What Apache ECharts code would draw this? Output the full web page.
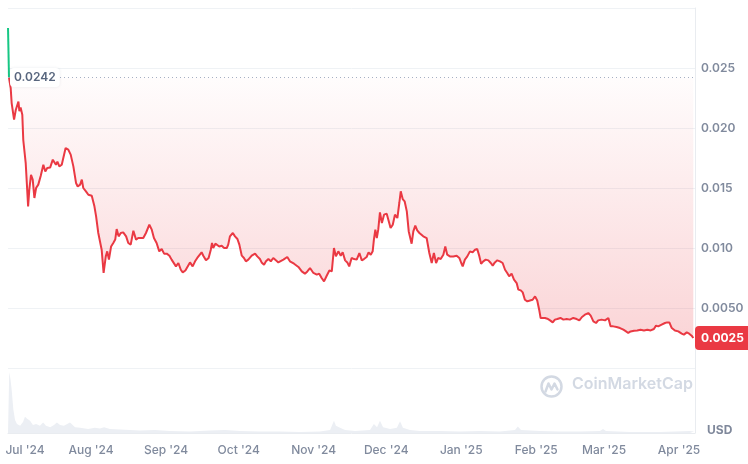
<!DOCTYPE html>
<html>
<head>
<meta charset="utf-8">
<script src="https://cdn.jsdelivr.net/npm/echarts@6/dist/echarts.min.js"></script>
<style>
html,body{margin:0;padding:0;background:#fff;}
#chart{width:748px;height:464px;}
</style>
</head>
<body>
<div id="chart"></div>
<script>
// ---- data (day offsets from 2024-07-01, price in USD) ----
const startDate = Date.UTC(2024, 6, 1);
const DAY = 86400000;
const openPrice = 0.0242;
const lastPrice = 0.0025;
const axisStartDay = -3.31;
const axisEndDay = 280.6;
const monthNames = ['Jan','Feb','Mar','Apr','May','Jun','Jul','Aug','Sep','Oct','Nov','Dec'];
const yTickStep = 0.005;

const upSegment = [[-3.3,0.02833],[-2.9,0.0242]];

const pricePoints = [
[-2.9,0.0242],[-2.2,0.02333],[-1.8,0.02208],[-0.8,0.0207],[-0.1,0.0215],[1.0,0.0222],[1.4,0.0214],[1.9,0.0217],[2.6,0.0211],[3.0,0.0190],[4.0,0.0171],[5.0,0.01347],[5.5,0.01486],[6.2,0.0161],[6.9,0.0157],[7.6,0.01417],[8.3,0.0150],[9.2,0.01528],[10.2,0.0160],[11.3,0.01694],[12.1,0.01638],[12.9,0.01667],[14.1,0.0167],[15.2,0.01736],[15.8,0.01722],[16.5,0.01694],[17.1,0.0172],[17.9,0.0168],[18.9,0.01694],[19.6,0.0168],[20.5,0.01833],[21.6,0.0182],[22.6,0.01778],[23.7,0.0168],[24.8,0.01542],[25.5,0.01513],[26.5,0.01528],[27.2,0.0157],[27.8,0.0150],[28.9,0.01472],[29.9,0.01444],[31.3,0.01436],[32.4,0.01347],[33.1,0.01263],[34.0,0.01125],[34.7,0.0111],[35.4,0.00986],[36.2,0.00792],[37.1,0.0093],[37.7,0.00972],[38.4,0.00903],[39.3,0.01013],[40.2,0.01042],[41.0,0.0107],[41.6,0.01158],[42.4,0.01097],[43.3,0.01125],[44.3,0.0113],[45.5,0.01097],[46.4,0.01042],[47.4,0.01028],[48.5,0.01144],[49.6,0.0107],[50.5,0.01083],
[51.2,0.0107],[52.6,0.01083],[53.7,0.01125],[55.1,0.01194],[56.1,0.01153],[57.0,0.01083],[58.1,0.01042],[59.2,0.00972],[60.2,0.00992],[61.2,0.00953],[62.3,0.00953],[63.4,0.00936],[64.3,0.00903],[65.0,0.00917],[66.1,0.00847],[67.1,0.00875],[68.1,0.00819],[68.9,0.00797],[70.0,0.00813],[70.8,0.00825],[71.9,0.0088],[73.0,0.00847],[74.0,0.00889],[74.9,0.00917],[75.7,0.00925],[76.7,0.00964],[77.4,0.00936],[78.5,0.00897],[79.6,0.00917],[80.5,0.00986],[81.0,0.01042],[81.5,0.0100],[82.4,0.01036],[83.2,0.01047],[84.0,0.01013],[85.0,0.01019],[86.0,0.0100],[87.1,0.0100],[87.7,0.01028],[88.4,0.01097],[89.6,0.01125],[90.5,0.01097],[91.5,0.01075],[92.3,0.01028],[93.3,0.00936],[94.2,0.00917],[95.0,0.00889],[96.0,0.00903],[97.4,0.00936],[98.8,0.00953],[99.7,0.0093],[100.8,0.00908],[101.5,0.0088],[102.5,0.00861],[103.3,0.00889],[104.3,0.00908],[105.3,0.00889],[106.3,0.00917],[107.4,0.00897],[108.4,0.0088],
[109.1,0.00875],[110.5,0.00903],[112.1,0.00925],[113.2,0.00889],[114.9,0.00869],[116.7,0.00842],[118.1,0.00805],[119.4,0.00786],[120.4,0.00805],[121.5,0.00833],[122.9,0.00792],[124.3,0.00778],[125.3,0.00786],[126.3,0.0075],[127.3,0.00722],[128.4,0.00769],[129.5,0.00813],[130.5,0.00805],[131.4,0.0100],[132.2,0.0093],[133.2,0.00972],[134.2,0.00936],[135.0,0.00964],[136.0,0.00897],[136.9,0.0088],[137.7,0.00847],[138.7,0.00917],[139.7,0.00908],[140.8,0.00903],[141.9,0.00958],[142.9,0.00897],[143.8,0.00908],[144.9,0.00925],[145.7,0.00964],[146.6,0.00944],[147.4,0.00972],[147.9,0.0107],[148.5,0.01153],[149.1,0.01083],[149.7,0.01153],[150.4,0.01297],[151.2,0.01208],[152.1,0.01278],[153.2,0.01286],[154.0,0.01292],[154.8,0.01167],[155.7,0.01194],[156.6,0.01278],[157.6,0.0125],[158.4,0.01375],[159.0,0.01472],[159.8,0.01408],[160.6,0.01389],[161.5,0.01305],[162.3,0.01138],[163.5,0.01036],[164.2,0.01138],[165.0,0.01186],[165.8,0.01147],[166.7,0.01125],
[167.0,0.01111],[168.3,0.01097],[169.7,0.01083],[170.8,0.00958],[171.8,0.00875],[172.7,0.00958],[173.6,0.00875],[174.5,0.00917],[175.5,0.00908],[176.6,0.00944],[177.4,0.01013],[178.2,0.00944],[179.3,0.0093],[180.7,0.0093],[182.1,0.00936],[183.2,0.00917],[184.0,0.00875],[184.6,0.00847],[185.5,0.00903],[186.5,0.0093],[187.6,0.00972],[188.7,0.00964],[189.7,0.00986],[190.6,0.00992],[191.5,0.0093],[192.2,0.00869],[193.1,0.00889],[194.1,0.00903],[195.2,0.00897],[196.2,0.00875],[197.0,0.00853],[197.9,0.0088],[198.9,0.00897],[200.0,0.00889],[201.1,0.00875],[202.1,0.00819],[203.0,0.00792],[203.8,0.00764],[204.8,0.00786],[205.8,0.00736],[206.9,0.00708],[207.6,0.00653],[208.6,0.00647],[209.4,0.0063],[210.3,0.00569],[211.3,0.00555],[212.4,0.00563],[213.5,0.00569],[214.5,0.00597],[215.4,0.00563],[216.2,0.00486],[216.8,0.00417],[217.6,0.00425],[218.6,0.00417],[219.6,0.00411],[220.7,0.00397],[221.8,0.0038],[222.7,0.00403],[223.7,0.00408],[224.5,0.00403],
[225.0,0.00417],[226.2,0.00403],[227.6,0.00408],[228.9,0.00403],[230.3,0.00417],[231.7,0.00408],[232.8,0.00397],[233.9,0.00425],[235.1,0.00444],[236.5,0.00458],[237.5,0.00436],[238.6,0.00389],[239.7,0.00375],[240.6,0.00397],[242.0,0.00403],[243.4,0.00397],[244.8,0.00417],[245.7,0.00347],[246.8,0.00347],[248.2,0.00342],[249.6,0.00333],[251.0,0.00319],[252.1,0.00305],[253.0,0.00292],[254.0,0.00305],[255.4,0.00311],[256.7,0.00313],[258.1,0.00319],[259.5,0.00313],[260.9,0.00319],[262.3,0.00313],[263.6,0.00325],[264.5,0.00353],[265.4,0.00347],[266.8,0.00361],[268.2,0.00375],[269.1,0.0038],[270.0,0.0038],[271.0,0.00333],[272.3,0.00313],[273.7,0.00305],[275.1,0.00286],[276.0,0.00278],[277.2,0.00297],[278.2,0.00286],[279.2,0.00269],[279.9,0.0025]
];

// relative volume (arbitrary units, 0-100)
const volumePoints = [
[-3.3,1.5],[-2.8,94],[-2.3,83],[-1.8,67],[-1.1,36],[-0.4,20],[0.4,14],[1.7,11],[2.9,17],[3.7,25],[4.6,22],[5.8,19],[7.0,12.5],[8.3,14],[9.9,11],[11.2,16],[12.4,11],[14.1,9],[15.7,12.5],[16.9,16],[18.2,12.5],[19.8,11],[22.3,16],[24.4,9],[26.5,8],[29.8,6],[32.6,8],[34.7,7],[36.4,9],[38.8,6],[43.0,5.5],[47.1,4.7],[51.2,4],[57.4,4.7],[63.6,3],[71.9,2.3],[80.2,4],[86.4,4.7],[92.6,3],[100.8,2.3],[109.1,2.3],[117.4,1.5],[125.6,2.3],[129.8,4.7],[131.4,19],[132.2,11],[133.9,8],[136.0,4.7],[140.1,3],[146.3,4.7],[147.9,14],[149.2,9],[150.4,19],[151.7,9],[154.6,6],[157.4,8],[158.7,18],[159.9,8],[162.8,4.7],[166.9,3],[175.2,3],[183.5,2.3],[191.7,3],[200.0,2.3],[206.2,4.7],[207.4,10],[208.7,4.7],[216.5,3],[224.8,2.3],[233.1,2.3],[241.3,3],[242.6,6],[243.8,3],[253.7,1.5],[266.1,1.5],[278.5,3],[280.2,2.3]
];

// ---- helpers ----
const toTime = d => startDate + d * DAY;
const mapPts = arr => arr.map(p => [toTime(p[0]), p[1]]);
const xMin = toTime(axisStartDay), xMax = toTime(axisEndDay);

const FONT = 'Inter, "Noto Sans", sans-serif';
const LABEL_GRAY = '#808a9d';
const GRID_LINE = '#eff2f5';
const RED = '#ea3943';
const GREEN = '#16c784';

function monthLabel(value) {
  const d = new Date(value);
  if (d.getDate() !== 1 || d.getHours() !== 0) return '';
  const s = monthNames[d.getMonth()] + " '" + String(d.getFullYear()).slice(2);
  if (d.getMonth() === 6 && d.getFullYear() === 2024) return '{first|' + s + '}';
  return s;
}

const chart = echarts.init(document.getElementById('chart'), null, {renderer: 'canvas'});
chart.setOption({
  animation: false,
  backgroundColor: '#fff',
  grid: [
    {left: 8, right: 53, top: 8, height: 360},
    {left: 8, right: 53, top: 368, height: 65}
  ],
  xAxis: [
    {type: 'time', gridIndex: 0, min: xMin, max: xMax, show: false, splitLine: {show: false}},
    {type: 'time', gridIndex: 1, min: xMin, max: xMax, splitNumber: 10, minInterval: 28 * DAY,
     axisLine: {show: true, lineStyle: {color: '#e9ecf0', width: 1}},
     axisTick: {show: false}, splitLine: {show: false},
     axisLabel: {
       formatter: monthLabel, color: LABEL_GRAY, fontFamily: FONT, fontSize: 12, fontWeight: 500, margin: 11,
       showMinLabel: false, showMaxLabel: false, hideOverlap: false,
       rich: {first: {padding: [0, 0, 0, 18], color: LABEL_GRAY, fontFamily: FONT, fontSize: 12, fontWeight: 500}}
     }}
  ],
  yAxis: [
    {type: 'value', gridIndex: 0, position: 'right', min: 0, max: 0.03, interval: yTickStep,
     axisLine: {show: true, lineStyle: {color: '#e9ecf0'}},
     axisTick: {show: false},
     splitLine: {show: true, lineStyle: {color: GRID_LINE}},
     axisLabel: {
       margin: 6, color: LABEL_GRAY, fontFamily: FONT, fontSize: 12, fontWeight: 600,
       formatter: v => (v <= 0 || v >= 0.03 - 1e-9) ? '' : (v < 0.0075 ? v.toFixed(4) : v.toFixed(3))
     }},
    {type: 'value', gridIndex: 1, position: 'right', min: 0, max: 100,
     axisLine: {show: true, lineStyle: {color: '#e9ecf0'}},
     axisTick: {show: false}, axisLabel: {show: false}, splitLine: {show: false}}
  ],
  series: [
    {
      type: 'line', xAxisIndex: 1, yAxisIndex: 1, data: mapPts(volumePoints),
      showSymbol: false, smooth: false, silent: true,
      lineStyle: {width: 0, color: '#e6eaf0'},
      areaStyle: {color: '#eceff4', opacity: 1}
    },
    {
      type: 'line', xAxisIndex: 0, yAxisIndex: 0, data: mapPts(upSegment),
      showSymbol: false, silent: true,
      lineStyle: {width: 2, color: GREEN},
      areaStyle: {origin: openPrice, color: 'rgba(22,199,132,0.08)'}
    },
    {
      type: 'line', xAxisIndex: 0, yAxisIndex: 0, data: mapPts(pricePoints),
      showSymbol: false, silent: true,
      lineStyle: {width: 2, color: RED},
      areaStyle: {
        origin: openPrice,
        color: {type: 'linear', x: 0, y: 0, x2: 0, y2: 1, colorStops: [
          {offset: 0, color: 'rgba(234,57,67,0.02)'},
          {offset: 1, color: 'rgba(234,57,67,0.30)'}
        ]}
      },
      markLine: {
        silent: true, symbol: ['none', 'none'], animation: false, precision: 6,
        data: [
          {yAxis: openPrice,
           lineStyle: {type: [1, 3], color: '#a6b0c3', width: 1},
           label: {show: true, position: 'insideStart', distance: 2, formatter: () => openPrice.toFixed(4),
             color: '#58667e', fontFamily: FONT, fontSize: 12, fontWeight: 600,
             backgroundColor: '#fff', borderRadius: 4, padding: [4, 4, 3, 4],
             shadowBlur: 3, shadowColor: 'rgba(88,102,126,0.12)'}},
          {yAxis: lastPrice,
           lineStyle: {color: 'rgba(255,255,255,0)', width: 0, opacity: 1},
           label: {show: true, position: 'end', distance: 0, formatter: () => lastPrice.toFixed(4),
             color: '#fff', fontFamily: FONT, fontSize: 12, fontWeight: 700, opacity: 1,
             backgroundColor: RED, borderRadius: 4, padding: [6, 7, 6, 6]}}
        ]
      }
    }
  ],
  graphic: [
    {type: 'group', left: 539, top: 374, silent: true, children: [
      {type: 'circle', shape: {cx: 11, cy: 11, r: 10}, style: {fill: 'none', stroke: '#d3d9e3', lineWidth: 2.5}},
      {type: 'polyline', shape: {points: [[5, 16], [8, 8], [11, 14], [14, 8], [17, 14]]},
       style: {fill: 'none', stroke: '#d3d9e3', lineWidth: 2.5, lineJoin: 'round', lineCap: 'round'}}
    ]},
    {type: 'text', left: 572, top: 376, silent: true,
     style: {text: 'CoinMarketCap', font: '600 16px Inter, "Noto Sans", sans-serif', fill: '#d3d9e3'}},
    {type: 'text', left: 707, top: 424, silent: true,
     style: {text: 'USD', font: '700 12px Inter, "Noto Sans", sans-serif', fill: '#7f889b'}}
  ]
});
</script>
</body>
</html>
